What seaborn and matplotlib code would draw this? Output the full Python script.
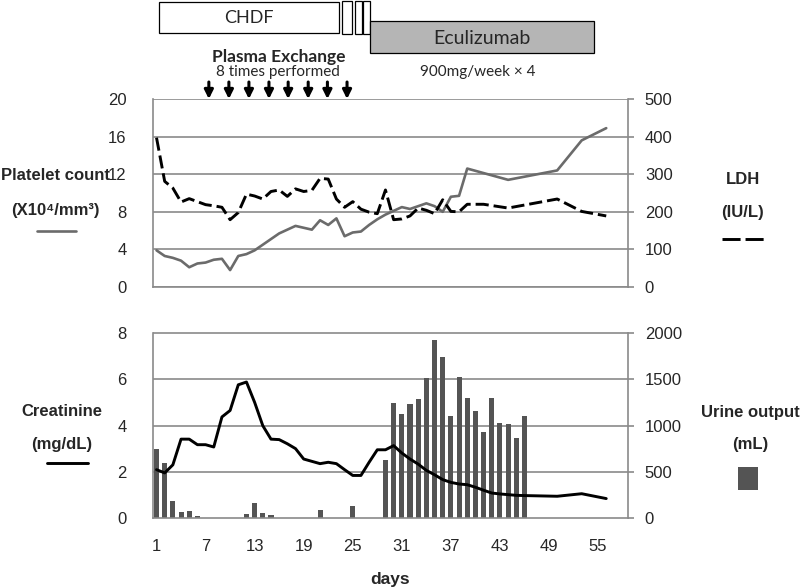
import numpy as np
import pandas as pd
import matplotlib
matplotlib.use('Agg')
import matplotlib.pyplot as plt
import seaborn as sns
from matplotlib.patches import Rectangle
from matplotlib.lines import Line2D

# --- data ---
platelet_days = [1, 2, 3, 4, 5, 6, 7, 8, 9, 10, 11, 12, 13, 14, 15, 16, 17, 18, 19, 20,
                 21, 22, 23, 24, 25, 26, 27, 28, 29, 30, 31, 32, 33, 34, 35, 36, 37, 38, 39,
                 44, 50, 53, 56]
platelet_vals = [3.9, 3.3, 3.1, 2.8, 2.1, 2.5, 2.6, 2.9, 3.0, 1.8, 3.3, 3.5, 3.9, 4.5, 5.1,
                 5.7, 6.1, 6.5, 6.3, 6.1, 7.1, 6.6, 7.3, 5.4, 5.8, 5.9, 6.6, 7.2, 7.7, 8.1,
                 8.5, 8.3, 8.6, 8.9, 8.6, 8.0, 9.6, 9.7, 12.6, 11.4, 12.4, 15.6, 16.9]

ldh_days = [1, 2, 3, 4, 5, 6, 7, 8, 9, 10, 11, 12, 13, 14, 15, 16, 17, 18, 19, 20,
            21, 22, 23, 24, 25, 26, 27, 28, 29, 30, 31, 32, 33, 34, 35, 36, 37, 38, 39,
            41, 44, 50, 53, 56]
ldh_vals = [397, 281, 263, 226, 235, 227, 219, 216, 212, 179, 198, 247, 242, 234, 254,
            258, 241, 261, 254, 257, 289, 287, 234, 212, 227, 207, 199, 195, 258, 179,
            181, 189, 210, 204, 195, 232, 201, 200, 220, 220, 210, 234, 201, 189]

creat_days = [1, 2, 3, 4, 5, 6, 7, 8, 9, 10, 11, 12, 13, 14, 15, 16, 17, 18, 19, 20,
              21, 22, 23, 24, 25, 26, 27, 28, 29, 30, 31, 32, 33, 34, 35, 36, 37, 38, 39,
              40, 41, 42, 43, 44, 45, 46, 50, 53, 56]
creat_vals = [2.09, 1.95, 2.3, 3.41, 3.41, 3.17, 3.17, 3.07, 4.37, 4.65, 5.76, 5.88, 5.0,
              3.99, 3.41, 3.39, 3.21, 3.0, 2.55, 2.45, 2.35, 2.41, 2.35, 2.09, 1.84, 1.84,
              2.41, 2.95, 2.95, 3.13, 2.81, 2.55, 2.33, 2.06, 1.87, 1.66, 1.54, 1.47, 1.44,
              1.33, 1.2, 1.08, 1.04, 1.01, 0.98, 0.97, 0.94, 1.05, 0.84]

urine_days = [1, 2, 3, 4, 5, 6, 7, 12, 13, 14, 15, 20, 21, 25, 29, 30, 31, 32, 33, 34,
              35, 36, 37, 38, 39, 40, 41, 42, 43, 44, 45, 46]
urine_vals = [745, 594, 180, 65, 72, 18, 4, 47, 162, 58, 36, 4, 86, 126, 623, 1242,
              1127, 1235, 1289, 1512, 1919, 1739, 1098, 1519, 1300, 1152, 929, 1300,
              1026, 1012, 860, 1098]

day_ticks = [1, 7, 13, 19, 25, 31, 37, 43, 49, 55]
urine_ticks = [0, 500, 1000, 1500, 2000]
creat_ticks = [0, 2, 4, 6, 8]

# treatment timeline (in days)
chdf_span = (1.3, 23.3)
chdf_extra = [(23.7, 24.95), (25.3, 26.1), (26.3, 27.05)]
eculizumab_span = (27.05, 54.5)
plasma_exchange_days = [7.4, 9.85, 12.3, 14.75, 17.1, 19.55, 21.9, 24.3]

sns.set_theme(style='white')
plt.rcParams['font.family'] = ['Liberation Sans', 'DejaVu Sans']

GRID = '#8a8a8a'
XLIM = (0.57, 58.6)

fig = plt.figure(figsize=(8, 5.87), dpi=100)
W, H = 800, 587

def fx(px):
    return px / W

def fy(py):
    return 1 - py / H

ax1 = fig.add_axes([fx(153), fy(287), fx(627.5 - 153), (287 - 99) / H])
ax1r = ax1.twinx()
# lower panel: base axes holds the urine bars (right scale), twin holds creatinine (left scale)
ax2 = fig.add_axes([fx(153), fy(518), fx(627.5 - 153), (518 - 333) / H])
ax2c = ax2.twinx()
axt = fig.add_axes([fx(153), fy(99), fx(627.5 - 153), 99 / H])

# --- upper panel: platelets and LDH ---
sns.lineplot(x=platelet_days, y=platelet_vals, ax=ax1, color='#6b6b6b', linewidth=1.9)
sns.lineplot(x=ldh_days, y=ldh_vals, ax=ax1r, color='black', linewidth=2.1)
ax1r.lines[-1].set_dashes([4.5, 1.7])

ax1.set_ylim(0, 20)
ax1.set_yticks(range(0, 21, 4))
ax1r.set_ylim(0, 500)
ax1r.set_yticks(range(0, 501, 100))

# --- lower panel: creatinine and urine output ---
sns.barplot(x=urine_days, y=urine_vals, ax=ax2, native_scale=True, width=0.62,
            color='#545454', saturation=1, errorbar=None, linewidth=0, zorder=2)
sns.lineplot(x=creat_days, y=creat_vals, ax=ax2c, color='black', linewidth=2.1)

ax2.set_ylim(0, 2000)
ax2.set_yticks(urine_ticks)
ax2.yaxis.tick_right()
ax2c.set_ylim(0, 8)
ax2c.set_yticks(creat_ticks)
ax2c.yaxis.tick_left()

for a in (ax1, ax1r, ax2, ax2c):
    a.set_xlim(*XLIM)
    a.set_xlabel('')
    a.set_ylabel('')
    for s in a.spines.values():
        s.set_visible(False)

for a, side in ((ax1, 'left'), (ax2, 'right'), (ax1r, 'right'), (ax2c, 'left')):
    a.spines[side].set_visible(True)
    a.spines[side].set_color(GRID)
    a.spines[side].set_linewidth(1.2)
for a in (ax1, ax2):
    a.spines['bottom'].set_visible(True)
    a.spines['bottom'].set_color(GRID)
    a.spines['bottom'].set_linewidth(1.2)

for a in (ax1, ax2c):
    a.tick_params(axis='y', left=False, right=False, labelleft=True, labelright=False,
                  labelsize=12, pad=13)
for a in (ax1r, ax2):
    a.tick_params(axis='y', right=True, left=False, labelright=True, labelleft=False,
                  direction='out', length=4.5, width=1.2, color=GRID, labelsize=12, pad=8)

ax1.set_xticks([])
ax2.set_xticks(day_ticks)
ax2.set_xticklabels([str(d) for d in day_ticks])
ax2.tick_params(axis='x', bottom=False, labelsize=12, pad=9)
ax2.set_xlabel('days', fontsize=12.5, fontweight='bold', labelpad=13)

# horizontal gridlines
ax1.yaxis.grid(True, color=GRID, linewidth=1.2, linestyle='-')
ax1.xaxis.grid(False)
ax1.set_axisbelow(True)
# lower panel gridlines drawn as plain lines at the urine tick values, under the bars
ax2.hlines(urine_ticks[1:], XLIM[0], XLIM[1], colors=GRID, linewidth=1.2,
           zorder=0.8, clip_on=False)

# --- treatment timeline on top ---
axt.set_xlim(*XLIM)
axt.set_ylim(99, 0)
axt.axis('off')
axt.add_patch(Rectangle((chdf_span[0], 2), chdf_span[1] - chdf_span[0], 31,
                        facecolor='white', edgecolor='black', linewidth=0.9))
for a0, a1 in chdf_extra:
    axt.add_patch(Rectangle((a0, 1), a1 - a0, 33, facecolor='white',
                            edgecolor='black', linewidth=0.9))
axt.add_patch(Rectangle((eculizumab_span[0], 21), eculizumab_span[1] - eculizumab_span[0], 32,
                        facecolor='#b5b5b5', edgecolor='black', linewidth=0.9))
tl_font = ['Lato', 'DejaVu Sans']
axt.text(np.mean(chdf_span), 18, 'CHDF', ha='center', va='center', fontsize=13,
         family=tl_font)
axt.text(np.mean(eculizumab_span), 38, 'Eculizumab', ha='center', va='center',
         fontsize=14, family=tl_font)
pe_center = np.mean(plasma_exchange_days)
axt.text(pe_center, 57, 'Plasma Exchange', ha='center', va='center', fontsize=12.5,
         fontweight='bold', family=tl_font)
axt.text(pe_center, 72, '8 times performed', ha='center', va='center', fontsize=11,
         family=tl_font)
axt.text(np.mean(eculizumab_span) - 0.5, 72, '900mg/week \u00d7 4', ha='center', va='center',
         fontsize=11, family=tl_font)
for d in plasma_exchange_days:
    axt.annotate('', xy=(d, 99), xytext=(d, 82),
                 arrowprops=dict(arrowstyle='-|>', color='black', lw=2.2,
                                 mutation_scale=13, shrinkA=0, shrinkB=0))

# --- side labels acting as legends ---
lab = dict(ha='center', va='center', fontsize=12, fontweight='bold')
fig.text(fx(55), fy(176), 'Platelet count', **lab)
fig.text(fx(55), fy(211), '(X10\u2074/mm\u00b3)', **lab)
fig.add_artist(Line2D([fx(37), fx(76)], [fy(231), fy(231)], color='#6b6b6b', linewidth=1.9))

fig.text(fx(743), fy(180), 'LDH', **lab)
fig.text(fx(743), fy(212), '(IU/L)', **lab)
fig.add_artist(Line2D([fx(722), fx(764)], [fy(239), fy(239)], color='black',
                      linewidth=2.1, dashes=[6.2, 1.7]))

fig.text(fx(62), fy(412), 'Creatinine', **lab)
fig.text(fx(62), fy(445), '(mg/dL)', **lab)
fig.add_artist(Line2D([fx(47), fx(88)], [fy(463), fy(463)], color='black', linewidth=2.1))

fig.text(fx(750), fy(413), 'Urine output', **lab)
fig.text(fx(750), fy(445), '(mL)', **lab)
fig.add_artist(Rectangle((fx(738), fy(490)), fx(20), 23 / H, facecolor='#545454',
                         edgecolor='none', transform=fig.transFigure))

fig.savefig('out.png', dpi=100)
